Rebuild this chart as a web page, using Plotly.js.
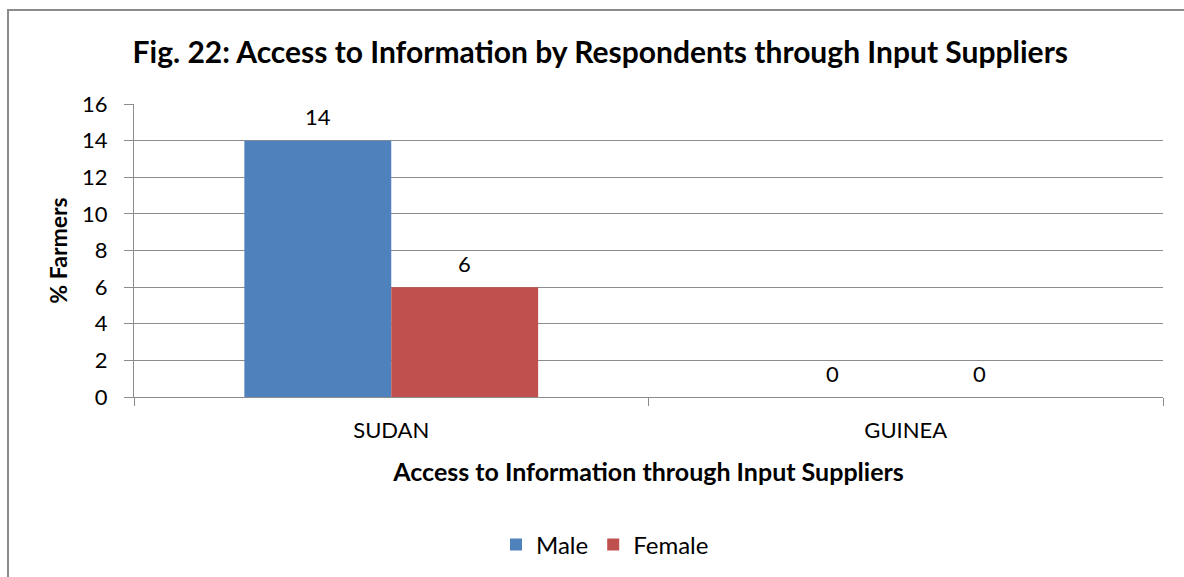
<!DOCTYPE html>
<html><head><meta charset="utf-8">
<script src="https://cdn.plot.ly/plotly-3.0.1.min.js"></script>
<style>
html,body{margin:0;padding:0;width:1184px;height:577px;overflow:hidden;background:#fff;}
#frame{position:absolute;left:7px;top:9px;width:1300px;height:700px;border:2px solid #8c8c8c;box-sizing:border-box;}
#chart{position:absolute;left:0;top:0;width:1184px;height:577px;}
</style></head>
<body>
<div id="frame"></div>
<div id="chart"></div>
<script>
const categories = ["SUDAN", "GUINEA"];
const maleValues = [14, 0];
const femaleValues = [6, 0];
const seriesNames = ["Male", "Female"];
const yTicks = [0, 2, 4, 6, 8, 10, 12, 14, 16];

const font = "Lato, 'Open Sans', sans-serif";
const traces = [
  {type:"bar", name:seriesNames[0], x:categories, y:maleValues, marker:{color:"#4F81BD"}},
  {type:"bar", name:seriesNames[1], x:categories, y:femaleValues, marker:{color:"#C0504D"}}
];
const annotations = [];
[maleValues, femaleValues].forEach((vals, s) => {
  vals.forEach((v, i) => {
    annotations.push({x:categories[i], y:v, xref:"x", yref:"y", text:String(v), showarrow:false,
      xshift:(s === 0 ? -73.5 : 73.5), yshift:24, yanchor:"middle",
      font:{size:22, color:"#000", family:font}});
  });
});
const layout = {
  width:1184, height:577,
  paper_bgcolor:"rgba(0,0,0,0)", plot_bgcolor:"rgba(0,0,0,0)",
  margin:{l:134, r:21, t:104, b:180},
  font:{family:font, color:"#000", size:22},
  title:{text:"<b>Fig. 22: Access to Information by Respondents through Input Suppliers</b>",
    font:{size:30, family:font, color:"#000"}, xref:"container", x:0.507, xanchor:"center",
    yref:"container", y:1-52/577, yanchor:"middle"},
  barmode:"group", bargap:0.429, bargroupgap:0,
  annotations:annotations,
  xaxis:{type:"category", tickson:"boundaries", ticks:"outside", ticklen:8, tickcolor:"#8c8c8c",
    showline:true, linecolor:"#8c8c8c", linewidth:1, showgrid:false, zeroline:false,
    tickfont:{size:22, family:font}, ticklabelstandoff:14,
    title:{text:"<b>Access to Information through Input Suppliers</b>", font:{size:25, family:font}, standoff:21}},
  yaxis:{range:[0,16], tickvals:yTicks, ticks:"outside", ticklen:9, tickcolor:"#8c8c8c",
    showline:true, linecolor:"#8c8c8c", linewidth:1, gridcolor:"#8c8c8c", gridwidth:1,
    zeroline:false, tickfont:{size:22, family:font}, ticklabelstandoff:12,
    title:{text:"<b>% Farmers</b>", font:{size:23, family:font}, standoff:8}},
  legend:{orientation:"h", xref:"container", x:605/1184, xanchor:"center", yref:"container", y:1-545/577, yanchor:"middle",
    font:{size:24, family:font}, itemwidth:20, traceorder:"normal"},
  showlegend:true
};
Plotly.newPlot("chart", traces, layout, {displayModeBar:false, staticPlot:true});
</script>
</body></html>
